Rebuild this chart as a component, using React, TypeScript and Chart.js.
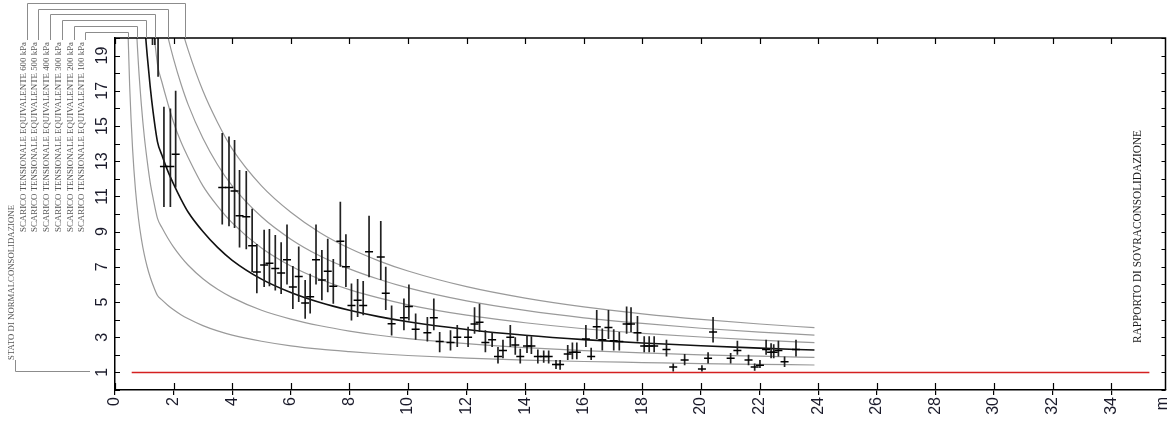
import React, { useEffect, useRef } from 'react';
import { Chart, registerables } from 'chart.js';

Chart.register(...registerables);

// ---------- axes ----------
const X_MIN = 0;
const X_MAX = 35.85;
const X_STEP = 2;
const Y_MIN = 0;
const Y_MAX = 20;
const Y_STEP = 1;
const X_UNIT = 'm';

// ---------- texts ----------
const LEGEND_LABELS = [
  'SCARICO TENSIONALE EQUIVALENTE 600 kPa',
  'SCARICO TENSIONALE EQUIVALENTE 500 kPa',
  'SCARICO TENSIONALE EQUIVALENTE 400 kPa',
  'SCARICO TENSIONALE EQUIVALENTE 300 kPa',
  'SCARICO TENSIONALE EQUIVALENTE 200 kPa',
  'SCARICO TENSIONALE EQUIVALENTE 100 kPa',
];
const NC_LABEL = 'STATO DI NORMALCONSOLIDAZIONE';
const RIGHT_TITLE = 'RAPPORTO DI SOVRACONSOLIDAZIONE';

// ---------- unloading curves (depth m, OCR) ----------
const C100_DEPTH = [0.35, 0.4, 0.45, 0.5, 0.6, 0.7, 0.8, 0.9, 1.0, 1.1, 1.2, 1.3, 1.45, 1.6, 1.8, 2.0, 2.25, 2.5, 3, 3.5, 4, 5, 6, 7, 8, 9, 10, 12, 14, 16, 18, 20, 22, 23.87];
const C100_OCR = [29.6, 23.8, 20.0, 17.3, 13.7, 11.35, 9.76, 8.59, 7.69, 6.99, 6.42, 5.95, 5.37, 5.12, 4.82, 4.56, 4.28, 4.05, 3.66, 3.36, 3.12, 2.77, 2.51, 2.32, 2.18, 2.06, 1.96, 1.81, 1.70, 1.62, 1.56, 1.50, 1.46, 1.42];

const C200_DEPTH = [0.6, 0.7, 0.8, 0.9, 1.0, 1.1, 1.2, 1.3, 1.45, 1.6, 1.8, 2.0, 2.25, 2.5, 3, 3.5, 4, 5, 6, 7, 8, 9, 10, 12, 14, 16, 18, 20, 22, 23.87];
const C200_OCR = [26.3, 21.7, 18.5, 16.2, 14.4, 13.0, 11.8, 10.9, 9.75, 9.23, 8.64, 8.12, 7.57, 7.09, 6.32, 5.72, 5.25, 4.53, 4.03, 3.65, 3.35, 3.11, 2.92, 2.63, 2.41, 2.24, 2.11, 2.00, 1.92, 1.85];

const C300_DEPTH = [0.9, 1.0, 1.1, 1.2, 1.3, 1.45, 1.6, 1.8, 2.0, 2.25, 2.5, 3, 3.5, 4, 5, 6, 7, 8, 9, 10, 12, 14, 16, 18, 20, 22, 23.87];
const C300_OCR = [23.8, 21.1, 19.0, 17.25, 15.8, 14.1, 13.35, 12.45, 11.7, 10.85, 10.1, 9.0, 8.1, 7.37, 6.3, 5.54, 4.97, 4.53, 4.17, 3.88, 3.44, 3.11, 2.86, 2.67, 2.51, 2.38, 2.27];

const C400_DEPTH = [1.2, 1.3, 1.45, 1.6, 1.8, 2.0, 2.25, 2.5, 3, 3.5, 4, 5, 6, 7, 8, 9, 10, 12, 14, 16, 18, 20, 22, 23.87];
const C400_OCR = [22.7, 20.8, 18.5, 17.5, 16.3, 15.2, 14.1, 13.2, 11.6, 10.45, 9.5, 8.07, 7.05, 6.29, 5.70, 5.23, 4.84, 4.25, 3.82, 3.48, 3.22, 3.01, 2.83, 2.69];

const C500_DEPTH = [1.45, 1.6, 1.8, 2.0, 2.25, 2.5, 3, 3.5, 4, 5, 6, 7, 8, 9, 10, 12, 14, 16, 18, 20, 22, 23.87];
const C500_OCR = [22.9, 21.6, 20.1, 18.8, 17.4, 16.2, 14.3, 12.8, 11.6, 9.84, 8.57, 7.61, 6.88, 6.29, 5.80, 5.06, 4.52, 4.10, 3.78, 3.51, 3.29, 3.12];

const C600_DEPTH = [2.0, 2.25, 2.5, 3, 3.5, 4, 5, 6, 7, 8, 9, 10, 12, 14, 16, 18, 20, 22, 23.87];
const C600_OCR = [22.4, 20.7, 19.3, 17.0, 15.2, 13.7, 11.6, 10.1, 8.94, 8.05, 7.34, 6.76, 5.87, 5.22, 4.72, 4.33, 4.01, 3.75, 3.54];

// normal consolidation line
const NC_DEPTH = [0.57, 35.3];
const NC_OCR = [1, 1];

// ---------- measured OCR with ranges ----------
const BAR_DEPTH = [1.28, 1.36, 1.47, 1.67, 1.89, 2.07, 3.66, 3.89, 4.08, 4.25, 4.48, 4.68, 4.84, 5.09, 5.27, 5.47, 5.67, 5.87, 6.07, 6.27, 6.49, 6.66, 6.86, 7.06, 7.26, 7.45, 7.69, 7.88, 8.07, 8.28, 8.47, 8.67, 9.07, 9.24, 9.44, 9.86, 10.03, 10.26, 10.66, 10.88, 11.08, 11.45, 11.68, 12.05, 12.27, 12.44, 12.64, 12.87, 13.07, 13.24, 13.49, 13.66, 13.83, 14.06, 14.21, 14.43, 14.63, 14.8, 15.05, 15.19, 15.45, 15.61, 15.76, 16.07, 16.25, 16.44, 16.63, 16.84, 17.02, 17.21, 17.46, 17.61, 17.83, 18.06, 18.23, 18.4, 18.82, 19.05, 19.44, 20.03, 20.24, 20.41, 21.01, 21.24, 21.62, 21.83, 22.01, 22.22, 22.39, 22.48, 22.64, 22.85, 23.24];
const BAR_OCR = [22.0, 22.0, 20.8, 12.7, 12.7, 13.4, 11.5, 11.5, 11.3, 9.9, 9.85, 8.2, 6.7, 7.1, 7.2, 6.9, 6.65, 7.4, 5.85, 6.45, 4.95, 5.3, 7.4, 6.25, 6.75, 5.9, 8.45, 7.0, 4.8, 5.1, 4.8, 7.85, 7.55, 5.5, 3.77, 4.1, 4.75, 3.45, 3.25, 4.1, 2.75, 2.7, 3.0, 3.0, 3.75, 3.85, 2.7, 2.85, 1.9, 2.25, 3.0, 2.55, 1.9, 2.5, 2.5, 1.9, 1.9, 1.9, 1.45, 1.45, 2.05, 2.15, 2.15, 2.9, 1.9, 3.6, 2.85, 3.55, 2.8, 2.75, 3.75, 3.75, 3.25, 2.5, 2.5, 2.5, 2.3, 1.3, 1.7, 1.2, 1.8, 3.3, 1.8, 2.25, 1.7, 1.3, 1.4, 2.3, 2.15, 2.15, 2.25, 1.6, 2.3];
const BAR_LOW = [19.6, 19.6, 17.8, 10.4, 10.4, 11.5, 9.4, 9.3, 9.2, 8.1, 8.0, 6.7, 5.5, 5.85, 5.9, 5.65, 5.45, 6.0, 4.6, 5.0, 4.05, 4.35, 6.0, 5.1, 5.55, 4.9, 7.0, 5.85, 3.95, 4.15, 4.25, 6.4, 6.25, 4.55, 3.1, 3.4, 3.95, 2.85, 2.75, 3.4, 2.15, 2.25, 2.45, 2.45, 3.2, 3.3, 2.15, 2.45, 1.5, 1.8, 2.45, 2.0, 1.5, 2.1, 2.05, 1.5, 1.55, 1.5, 1.2, 1.15, 1.7, 1.75, 1.75, 2.45, 1.7, 2.9, 2.25, 2.9, 2.25, 2.25, 3.2, 3.3, 2.75, 2.15, 2.15, 2.15, 1.9, 1.05, 1.4, 1.05, 1.5, 2.7, 1.5, 2.0, 1.4, 1.1, 1.25, 2.0, 1.8, 1.8, 1.9, 1.3, 1.9];
const BAR_HIGH = [24.4, 24.4, 23.8, 16.1, 16.0, 17.0, 14.6, 14.4, 14.2, 12.5, 12.45, 10.3, 8.3, 9.1, 9.15, 8.8, 8.4, 9.4, 7.05, 8.15, 6.25, 6.6, 9.4, 7.95, 8.6, 7.45, 10.7, 8.85, 6.05, 6.3, 6.2, 9.9, 9.6, 7.0, 4.8, 5.2, 6.0, 4.35, 4.15, 5.2, 3.3, 3.4, 3.7, 3.6, 4.7, 4.9, 3.4, 3.3, 2.45, 2.85, 3.7, 3.0, 2.35, 3.1, 3.05, 2.3, 2.25, 2.25, 1.7, 1.7, 2.55, 2.7, 2.7, 3.7, 2.4, 4.55, 3.5, 4.55, 3.45, 3.3, 4.75, 4.7, 4.2, 3.05, 3.05, 3.05, 2.85, 1.5, 2.05, 1.4, 2.15, 4.15, 2.1, 2.8, 2.0, 1.5, 1.7, 2.85, 2.65, 2.6, 2.8, 1.9, 2.85];

// ---------- helpers ----------
const pts = (xs: number[], ys: number[]) => xs.map((x, i) => ({ x, y: ys[i] }));

const CURVES = [
  { d: C600_DEPTH, o: C600_OCR, color: '#9a9a9a', w: 1.2 },
  { d: C500_DEPTH, o: C500_OCR, color: '#9a9a9a', w: 1.2 },
  { d: C400_DEPTH, o: C400_OCR, color: '#9a9a9a', w: 1.2 },
  { d: C300_DEPTH, o: C300_OCR, color: '#111111', w: 1.6 },
  { d: C200_DEPTH, o: C200_OCR, color: '#9a9a9a', w: 1.2 },
  { d: C100_DEPTH, o: C100_OCR, color: '#9a9a9a', w: 1.2 },
];

function crossDepth(d: number[], o: number[], level: number) {
  for (let i = 0; i < o.length - 1; i++) {
    if (o[i] >= level && o[i + 1] < level) {
      return d[i] + ((o[i] - level) / (o[i] - o[i + 1])) * (d[i + 1] - d[i]);
    }
  }
  return d[0];
}

function drawVText(ctx: CanvasRenderingContext2D, text: string, cx: number, topY: number, length: number | null, font: string, color: string) {
  ctx.save();
  ctx.font = font;
  ctx.fillStyle = color;
  ctx.textAlign = 'right';
  ctx.textBaseline = 'middle';
  const w = ctx.measureText(text).width;
  ctx.translate(cx, topY);
  ctx.rotate(-Math.PI / 2);
  if (length) ctx.scale(length / w, 1);
  ctx.fillText(text, 0, 0);
  ctx.restore();
}

const decorPlugin = {
  id: 'decor',
  afterDraw(chart: any) {
    const { ctx, chartArea: a, scales } = chart;
    const xs = scales.x;
    const ys = scales.y;
    ctx.save();
    // frame top & right
    ctx.strokeStyle = '#000';
    ctx.lineWidth = 1.5;
    ctx.beginPath();
    ctx.moveTo(a.left, a.top);
    ctx.lineTo(a.right, a.top);
    ctx.lineTo(a.right, a.bottom);
    ctx.stroke();
    // inner tick marks
    ctx.lineWidth = 1.2;
    ctx.beginPath();
    xs.ticks.forEach((t: any) => {
      const px = Math.round(xs.getPixelForValue(t.value)) + 0.5;
      ctx.moveTo(px, a.bottom);
      ctx.lineTo(px, a.bottom - 7);
      ctx.moveTo(px, a.top);
      ctx.lineTo(px, a.top + 6);
    });
    ys.ticks.forEach((t: any) => {
      const py = Math.round(ys.getPixelForValue(t.value)) + 0.5;
      ctx.moveTo(a.left, py);
      ctx.lineTo(a.left + 5, py);
      ctx.moveTo(a.right, py);
      ctx.lineTo(a.right - 4, py);
    });
    ctx.stroke();

    // legend brackets & labels
    const legendFont = '8.5px "Liberation Serif", serif';
    ctx.strokeStyle = '#8c8c8c';
    ctx.lineWidth = 1;
    LEGEND_LABELS.forEach((label, i) => {
      const cx = 23.5 + 11.7 * i;
      const bx = Math.round(cx + 3.2) + 0.5;
      const ly = Math.round(3 + 5.7 * i) + 0.5;
      const c = CURVES[i];
      const ex = Math.round(xs.getPixelForValue(crossDepth(c.d, c.o, Y_MAX))) + 0.5;
      ctx.beginPath();
      ctx.moveTo(bx, 40);
      ctx.lineTo(bx, ly);
      ctx.lineTo(ex, ly);
      ctx.lineTo(ex, a.top);
      ctx.stroke();
      drawVText(ctx, label, cx, 42, 190, legendFont, '#555');
    });
    // normal consolidation bracket
    const y1 = Math.round(ys.getPixelForValue(1)) - 0.5;
    ctx.beginPath();
    ctx.moveTo(15.5, 360);
    ctx.lineTo(15.5, y1);
    ctx.lineTo(90, y1);
    ctx.stroke();
    drawVText(ctx, NC_LABEL, 11.7, 205, 155, legendFont, '#555');

    // right title
    drawVText(ctx, RIGHT_TITLE, 1138, 130, 213, '13px "Liberation Serif", serif', '#1a1a1a');

    // x unit
    drawVText(ctx, X_UNIT, xs.right - 3, a.bottom + 7, null, '16px "Liberation Sans", Arial, sans-serif', '#1a1a2a');
    ctx.restore();
  },
};

export default function App() {
  const ref = useRef<HTMLCanvasElement | null>(null);

  useEffect(() => {
    document.body.style.margin = '0';
    const canvas = ref.current;
    if (!canvas) return;

    const barData: any[] = [];
    BAR_DEPTH.forEach((d, i) => {
      barData.push({ x: d, y: BAR_LOW[i] });
      barData.push({ x: d, y: BAR_HIGH[i] });
      barData.push({ x: d, y: null });
    });

    const datasets: any[] = [
      {
        type: 'line',
        data: pts(BAR_DEPTH, BAR_OCR),
        showLine: false,
        pointStyle: 'line',
        pointRadius: 4,
        pointBorderWidth: 1.5,
        pointBorderColor: '#000',
        borderColor: '#000',
      },
      {
        type: 'line',
        data: barData,
        borderColor: '#222',
        borderWidth: 1.7,
        pointRadius: 0,
        spanGaps: false,
      },
      ...CURVES.map((c) => ({
        type: 'line',
        data: pts(c.d, c.o),
        borderColor: c.color,
        borderWidth: c.w,
        pointRadius: 0,
        cubicInterpolationMode: 'monotone',
      })),
      {
        type: 'line',
        data: pts(NC_DEPTH, NC_OCR),
        borderColor: '#d42020',
        borderWidth: 1.5,
        pointRadius: 0,
      },
    ];

    const tickFont = { family: '"Liberation Sans", Arial, sans-serif', size: 16 };

    const chart = new Chart(canvas, {
      type: 'line',
      data: { datasets },
      plugins: [decorPlugin],
      options: {
        responsive: false,
        animation: false,
        events: [],
        layout: { padding: { top: 38, right: 2, left: 0, bottom: 0 } },
        plugins: { legend: { display: false }, tooltip: { enabled: false } },
        scales: {
          x: {
            type: 'linear',
            position: 'bottom',
            min: X_MIN,
            max: X_MAX,
            ticks: {
              stepSize: X_STEP,
              includeBounds: false,
              autoSkip: false,
              minRotation: 90,
              maxRotation: 90,
              padding: 2,
              color: '#1a1a2a',
              font: tickFont,
            },
            grid: { drawOnChartArea: false, drawTicks: true, tickLength: 5, color: '#000', lineWidth: 1.2 },
            border: { display: true, color: '#000', width: 1.5 },
            afterFit: (s: any) => {
              s.height = 42;
            },
          },
          y: {
            type: 'linear',
            min: Y_MIN,
            max: Y_MAX,
            ticks: {
              stepSize: Y_STEP,
              autoSkip: false,
              minRotation: 90,
              maxRotation: 90,
              crossAlign: 'center',
              padding: 4,
              color: '#1a1a2a',
              font: tickFont,
              callback: (v: any) => (Number(v) % 2 === 1 ? String(v) : ''),
            },
            grid: { drawOnChartArea: false, drawTicks: false },
            border: { display: true, color: '#000', width: 1.5 },
            afterFit: (s: any) => {
              s.width = 115;
            },
          },
        },
      } as any,
    });

    return () => chart.destroy();
  }, []);

  return <canvas ref={ref} width={1171} height={432} style={{ display: 'block' }} />;
}
